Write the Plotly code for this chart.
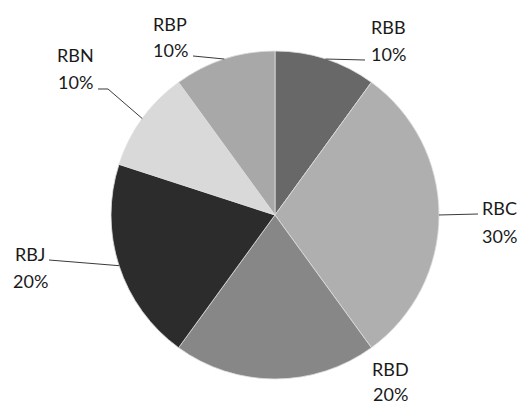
import math
import plotly.graph_objects as go

# Share of each group
labels = ["RBB", "RBC", "RBD", "RBJ", "RBN", "RBP"]
shares = [10, 30, 20, 20, 10, 10]
colors = ["#686868", "#afafaf", "#878787", "#2c2c2c", "#d9d9d9", "#a8a8a8"]

W, H = 519, 405
CX, CY, R = 275, 215, 164  # pie centre and radius in pixels

# centre x, name-line y and percent-line y for each label (px)
label_pos = {
    "RBB": (388, 27, 54),
    "RBC": (499, 208, 236),
    "RBD": (390, 369, 394),
    "RBJ": (30, 254, 281),
    "RBN": (75, 55, 82),
    "RBP": (170, 24, 50),
}
# leader line points from the slice edge to the label (px); None -> no line
leader_pts = {
    "RBB": [(365, 60)],
    "RBC": [(478, 214)],
    "RBD": None,
    "RBJ": [(49, 260)],
    "RBN": [(108, 89), (98, 89)],
    "RBP": [(193, 56)],
}


def px(x, y):
    return x / W, 1 - y / H


fig = go.Figure(
    go.Pie(
        labels=labels,
        values=shares,
        sort=False,
        direction="clockwise",
        rotation=0,
        textinfo="none",
        hoverinfo="label+percent",
        marker=dict(colors=colors, line=dict(color="#e0e0e0", width=0.8)),
        domain=dict(
            x=[(CX - R) / W, (CX + R) / W],
            y=[1 - (CY + R) / H, 1 - (CY - R) / H],
        ),
        showlegend=False,
    )
)

total = sum(shares)
font = dict(family="Lato", size=18, color="#1a1a1a")
annotations = []
shapes = []
cum = 0
for name, v in zip(labels, shares):
    mid = (cum + v / 2) / total
    cum += v
    theta = 2 * math.pi * mid
    ex = CX + R * math.sin(theta)
    ey = CY - R * math.cos(theta)
    lx, ny, py = label_pos[name]
    pct = f"{round(v / total * 100)}%"
    for txt, ty in ((name, ny), (pct, py)):
        ax, ay = px(lx, ty)
        annotations.append(dict(
            x=ax, y=ay, xref="paper", yref="paper", text=txt,
            showarrow=False, xanchor="center", yanchor="middle", font=font,
            borderpad=0,
        ))
    pts = leader_pts[name]
    if pts:
        path_pts = [(ex, ey)] + pts
        path = "M " + " L ".join(
            f"{px(x, y)[0]:.5f},{px(x, y)[1]:.5f}" for x, y in path_pts
        )
        shapes.append(dict(
            type="path", path=path, xref="paper", yref="paper",
            line=dict(color="#3a3a3a", width=1),
        ))

fig.update_layout(
    width=W, height=H,
    margin=dict(l=0, r=0, t=0, b=0),
    paper_bgcolor="white",
    plot_bgcolor="white",
    annotations=annotations,
    shapes=shapes,
)

fig.write_html("out.html")
